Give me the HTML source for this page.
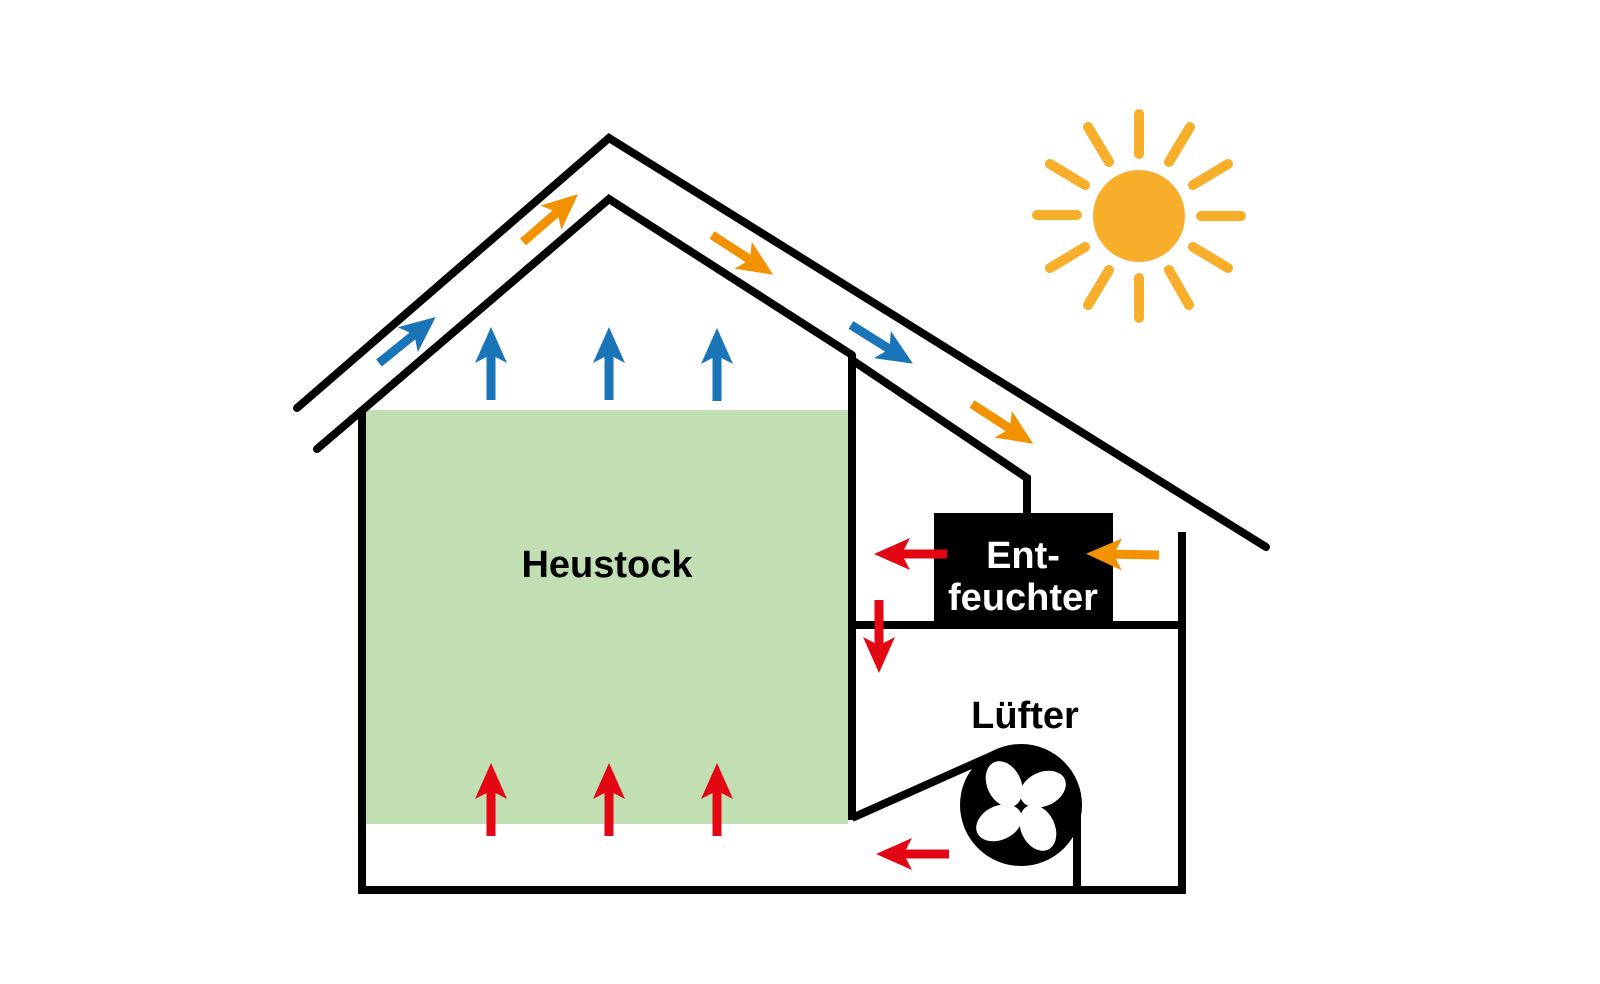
<!DOCTYPE html>
<html><head><style>html,body{margin:0;padding:0;background:#fff;}svg{display:block}</style></head>
<body>
<svg width="1600" height="984" viewBox="0 0 1600 984" xmlns="http://www.w3.org/2000/svg">
<defs>
<path id="ar" d="M0,-4.5 L43,-4.5 L37,-16 L73,0 L37,16 L43,4.5 L0,4.5 Z"/>
</defs>
<rect x="366" y="410" width="482" height="414" fill="#c2dfb3"/>
<g fill="none" stroke="#000" stroke-width="8" stroke-linecap="round" stroke-linejoin="miter">
<polyline points="297,408 609,138 1266,547"/>
<polyline points="317,449 609,199 852,355"/>
<polyline points="852,360 1027,478 1027,515" stroke-linecap="butt"/>
<polyline points="362,412 362,890 1182,890 1182,532" stroke-linecap="butt"/>
<line x1="852" y1="355" x2="852" y2="820" stroke-linecap="butt"/>
<line x1="852" y1="625" x2="1182" y2="625" stroke-linecap="butt"/>
<line x1="852" y1="818" x2="1000" y2="752" stroke-linecap="butt"/>
<line x1="1077" y1="800" x2="1077" y2="890" stroke-linecap="butt"/>
</g>
<rect x="934" y="513" width="179" height="112" fill="#000"/>
<circle cx="1021" cy="805" r="61" fill="#000"/>
<g fill="#fff" transform="translate(1021,806)">
<ellipse cx="-6" cy="-27" rx="17" ry="24" transform="rotate(-25)"/>
<ellipse cx="-6" cy="-27" rx="17" ry="24" transform="rotate(65)"/>
<ellipse cx="-6" cy="-27" rx="17" ry="24" transform="rotate(155)"/>
<ellipse cx="-6" cy="-27" rx="17" ry="24" transform="rotate(245)"/>
</g>
<!-- sun -->
<g stroke="#f7ae2b" stroke-width="10" stroke-linecap="round">
<line x1="1139" y1="114" x2="1139" y2="154"/><line x1="1139" y1="278" x2="1139" y2="318"/>
<line x1="1037" y1="215" x2="1077" y2="215"/><line x1="1201" y1="216" x2="1241" y2="216"/>
<line x1="1088" y1="127" x2="1109" y2="162"/><line x1="1169" y1="270" x2="1189" y2="305"/>
<line x1="1190" y1="127" x2="1169" y2="162"/><line x1="1109" y1="270" x2="1088" y2="305"/>
<line x1="1050" y1="164" x2="1085" y2="185"/><line x1="1193" y1="247" x2="1228" y2="268"/>
<line x1="1228" y1="164" x2="1193" y2="185"/><line x1="1085" y1="247" x2="1050" y2="268"/>
</g>
<circle cx="1139" cy="216" r="46" fill="#f7ae2b"/>
<!-- arrows -->
<g fill="#1a74b8">
<use href="#ar" transform="translate(491,400) rotate(-90)"/>
<use href="#ar" transform="translate(609,400) rotate(-90)"/>
<use href="#ar" transform="translate(717,401) rotate(-90)"/>
<use href="#ar" transform="translate(379,363) rotate(-39)"/>
<use href="#ar" transform="translate(851,325) rotate(32)"/>
</g>
<g fill="#f39200">
<use href="#ar" transform="translate(523,242) rotate(-41)"/>
<use href="#ar" transform="translate(712,235) rotate(33)"/>
<use href="#ar" transform="translate(972,404) rotate(33)"/>
<use href="#ar" transform="translate(1159,555) rotate(181)"/>
</g>
<g fill="#e30613">
<use href="#ar" transform="translate(491,836) rotate(-90)"/>
<use href="#ar" transform="translate(609,836) rotate(-90)"/>
<use href="#ar" transform="translate(717,836) rotate(-90)"/>
<use href="#ar" transform="translate(947,554) rotate(180)"/>
<use href="#ar" transform="translate(879,600) rotate(90)"/>
<use href="#ar" transform="translate(949,854) rotate(180)"/>
</g>
<g font-family="Liberation Sans, sans-serif" font-weight="bold" font-size="38" text-anchor="middle">
<text x="607" y="577">Heustock</text>
<text x="1023" y="568" fill="#fff">Ent-</text>
<text x="1023" y="610" fill="#fff">feuchter</text>
<text x="1025" y="728">Lüfter</text>
</g>
</svg>
</body></html>
